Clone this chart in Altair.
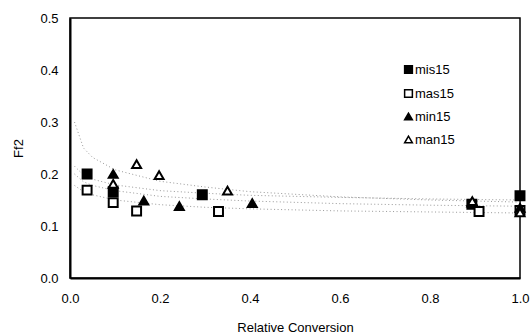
import altair as alt
import pandas as pd

series = ["mis15", "mas15", "min15", "man15"]
shapes = ["square", "square", "triangle-up", "triangle-up"]
fills = ["black", "white", "black", "white"]
strokes = ["black", "black", "black", "black"]

mis15_x = [0.038, 0.096, 0.294, 0.893, 1.0]
mis15_y = [0.200, 0.166, 0.160, 0.142, 0.158]
mas15_x = [0.038, 0.096, 0.148, 0.330, 0.909, 1.0]
mas15_y = [0.169, 0.145, 0.129, 0.128, 0.128, 0.130]
min15_x = [0.096, 0.164, 0.243, 0.405, 0.893, 1.0]
min15_y = [0.200, 0.149, 0.138, 0.144, 0.145, 0.135]
man15_x = [0.096, 0.148, 0.198, 0.350, 0.894, 1.0]
man15_y = [0.181, 0.219, 0.198, 0.168, 0.148, 0.126]

# dotted trend lines
trend_x = [0.01, 0.03, 0.05, 0.1, 0.2, 0.3, 0.4, 0.6, 0.8, 1.0]
trend_man15 = [0.300, 0.250, 0.232, 0.208, 0.186, 0.175, 0.166, 0.156, 0.150, 0.146]
trend_mis15 = [0.215, 0.198, 0.190, 0.179, 0.168, 0.163, 0.159, 0.155, 0.152, 0.150]
trend_min15 = [0.200, 0.185, 0.178, 0.168, 0.157, 0.152, 0.148, 0.143, 0.140, 0.138]
trend_mas15 = [0.178, 0.166, 0.160, 0.150, 0.141, 0.136, 0.133, 0.129, 0.127, 0.125]

rows = []
for s, xs, ys in [("mis15", mis15_x, mis15_y), ("mas15", mas15_x, mas15_y),
                  ("min15", min15_x, min15_y), ("man15", man15_x, man15_y)]:
    for x, y in zip(xs, ys):
        rows.append({"series": s, "x": x, "y": y})
pts = pd.DataFrame(rows)

trows = []
for s, ys in [("mis15", trend_mis15), ("mas15", trend_mas15),
              ("min15", trend_min15), ("man15", trend_man15)]:
    for x, y in zip(trend_x, ys):
        trows.append({"series": s, "x": x, "y": y})
trend = pd.DataFrame(trows)

xscale = alt.Scale(domain=[0, 1], nice=False, padding=0)
yscale = alt.Scale(domain=[0, 0.5], nice=False, padding=0)

xaxis = alt.Axis(title="Relative Conversion", values=[0, 0.2, 0.4, 0.6, 0.8, 1.0], format=".1f",
                 grid=False, ticks=False, labelPadding=14, titlePadding=16, labelFlush=False,
                 domainWidth=2, domainColor="black")
yaxis = alt.Axis(title="Ff2", values=[0, 0.1, 0.2, 0.3, 0.4, 0.5], format=".1f",
                 grid=False, ticks=False, labelPadding=12, titlePadding=14, labelFlush=False,
                 domainWidth=2, domainColor="black")

lines = alt.Chart(trend).mark_line(color="#999999", strokeWidth=1, strokeDash=[1, 2.5]).encode(
    x=alt.X("x:Q", scale=xscale, axis=xaxis),
    y=alt.Y("y:Q", scale=yscale, axis=yaxis),
    detail="series:N",
)

leg = alt.Legend(title=None, orient="none", legendX=332, legendY=45,
                 labelFontSize=13, symbolSize=60, symbolStrokeWidth=1.5,
                 rowPadding=9, labelOffset=0)

points = alt.Chart(pts).mark_point(size=80, strokeWidth=2, opacity=1, filled=True).encode(
    x=alt.X("x:Q", scale=xscale),
    y=alt.Y("y:Q", scale=yscale),
    shape=alt.Shape("series:N", scale=alt.Scale(domain=series, range=shapes), legend=leg),
    fill=alt.Fill("series:N", scale=alt.Scale(domain=series, range=fills), legend=leg),
    stroke=alt.Stroke("series:N", scale=alt.Scale(domain=series, range=strokes), legend=leg),
)

chart = alt.layer(lines, points).properties(
    width=450, height=260,
    autosize="none",
    padding={"left": 70, "top": 18, "right": 12, "bottom": 58},
    background="white",
).configure_view(stroke="black", strokeWidth=1.5).configure_axis(
    labelFont="Liberation Sans", titleFont="Liberation Sans",
    labelFontSize=13, titleFontSize=13, titleFontWeight="normal",
    labelColor="black", titleColor="black",
).configure_legend(labelFont="Liberation Sans", labelColor="black")

chart.save("out.html", embed_options={"renderer": "svg", "actions": False})
